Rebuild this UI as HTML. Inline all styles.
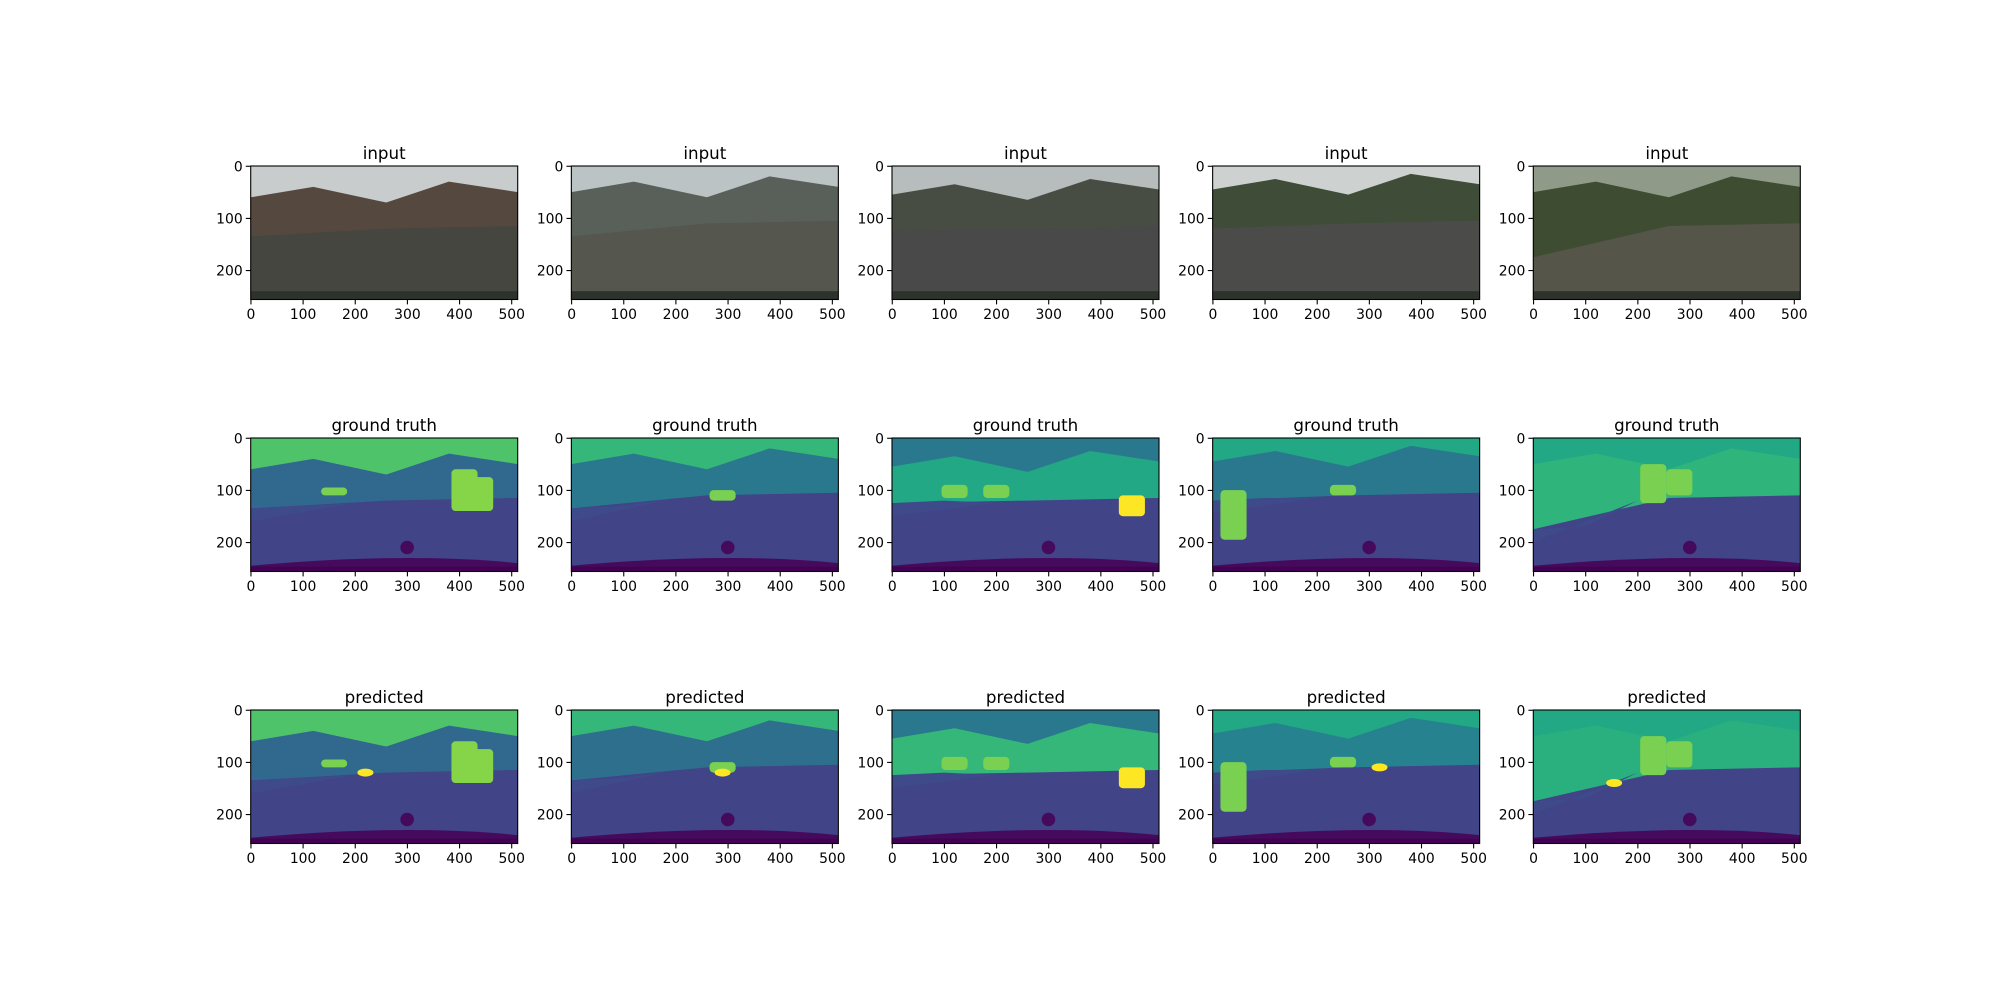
<!DOCTYPE html>
<html><head><meta charset="utf-8"><style>
html,body{margin:0;padding:0;background:#fff;}
svg{display:block;font-family:"DejaVu Sans","Liberation Sans",sans-serif;}
</style></head><body>
<svg id="fig" width="2000" height="1000" viewBox="0 0 2000 1000" xmlns="http://www.w3.org/2000/svg"></svg>
<script>
const rowTitles = ['input','ground truth','predicted'];
const xTicks = [0,100,200,300,400,500];
const yTicks = [0,100,200];
const horizonL = [135,135,125,120,175];
const horizonR = [115,105,115,105,110];
const skyLine = [40,30,35,25,30];
const inSky = ['#c8cccd','#bcc3c5','#b7bdbd','#cdd2d0','#8f9a88'];
const inBld = ['#55493f','#59605a','#474d43','#3f4c37','#3e4d31'];
const inRoad = ['#45463f','#55574f','#484948','#4b4c49','#56554a'];
const segTop = ['#4fc36a','#35b779','#2a788e','#22a884','#22a884'];
const segBld = ['#31688e','#2a788e','#22a884','#2a788e','#2fb47c'];
const segBldP = ['#31688e','#2e6f8e','#35b779','#26828e','#2ab07f'];
const blobs = [
  [[410,60,140,'#86d549'],[440,75,140,'#86d549'],[160,95,110,'#7ad151']],
  [[290,100,120,'#7ad151']],
  [[120,90,115,'#7ad151'],[200,90,115,'#7ad151'],[460,110,150,'#fde725']],
  [[40,100,190,'#7ad151'],[250,90,110,'#7ad151'],[40,120,195,'#7ad151']],
  [[230,50,125,'#7ad151'],[280,60,110,'#7ad151']]
];
const predYellow = [[220,120],[290,120],[460,140],[320,110],[155,140]];

const NS='http://www.w3.org/2000/svg';
const svg=document.getElementById('fig');
const L0=250.7, DX=320.65, W=267, H=133.5;
const tops=[166,438,710];
function mk(tag,attrs,parent){const e=document.createElementNS(NS,tag);for(const k in attrs)e.setAttribute(k,attrs[k]);(parent||svg).appendChild(e);return e;}
for(let r=0;r<3;r++){
  for(let c=0;c<5;c++){
    const left=L0+c*DX, top=tops[r];
    const sx=v=>left+v/512*W, sy=v=>top+v/256*H;
    const g=mk('g',{});
    
    
    const cp=mk('clipPath',{id:'cp'+r+c},g);
    mk('rect',{x:left,y:top,width:W,height:H},cp);
    const img=mk('g',{'clip-path':'url(#cp'+r+c+')'},g);
    
    
    const hl=horizonL[c], hr=horizonR[c], s=skyLine[c];
    const top_=r===0?inSky[c]:segTop[c];
    const bld=r===0?inBld[c]:(r===1?segBld[c]:segBldP[c]);
    const road=r===0?inRoad[c]:'#414487';
    mk('rect',{x:left,y:top,width:W,height:H,fill:top_},img);
    mk('path',{d:`M${sx(0)},${sy(s+20)} L${sx(120)},${sy(s)} L${sx(260)},${sy(s+30)} L${sx(380)},${sy(s-10)} L${sx(512)},${sy(s+10)} L${sx(512)},${sy(hr+10)} L${sx(0)},${sy(hl+10)} Z`,fill:bld},img);
    mk('path',{d:`M${sx(0)},${sy(hl)} L${sx(260)},${sy(hr+5)} L${sx(512)},${sy(hr)} L${sx(512)},${sy(256)} L${sx(0)},${sy(256)} Z`,fill:road},img);
    if(r>0){
      mk('path',{d:`M${sx(0)},${sy(hl)} L${sx(0)},${sy(hl+25)} L${sx(200)},${sy(hr+10)} L${sx(100)},${sy(hl-5)} Z`,fill:'#3e4a89'},img);
      blobs[c].forEach(b=>{mk('rect',{x:sx(b[0]-25),y:sy(b[1]),width:W*50/512,height:sy(b[2])-sy(b[1]),fill:b[3],rx:4},img);});
    }
    if(r===2){const p=predYellow[c];mk('ellipse',{cx:sx(p[0]),cy:sy(p[1]),rx:8,ry:4,fill:'#fde725'},img);}
    if(r===0){
      mk('rect',{x:left,y:sy(240),width:W,height:sy(256)-sy(240),fill:'#2e322d'},img);
    } else {
      mk('path',{d:`M${sx(0)},${sy(245)} Q${sx(300)},${sy(218)} ${sx(512)},${sy(240)} L${sx(512)},${sy(256)} L${sx(0)},${sy(256)} Z`,fill:'#450a5c'},img);
      mk('rect',{x:left,y:sy(247),width:W,height:sy(256)-sy(247),fill:'#440154'},img);
      mk('circle',{cx:sx(300),cy:sy(210),r:W*13/512,fill:'#450a5c'},img);
    }
    const fr=mk('rect',{x:left,y:top,width:W,height:H,fill:'none',stroke:'#000','stroke-width':1.1},g);
    
    
    const t=mk('text',{x:left+W/2,y:top-7,'text-anchor':'middle','font-size':16.7,fill:'#000'},g);
    t.textContent=rowTitles[r];
    
    
    xTicks.forEach(v=>{
      const x=sx(v+0.5);
      mk('line',{x1:x,y1:top+H,x2:x,y2:top+H+4.9,stroke:'#000','stroke-width':1.1},g);
      const tx=mk('text',{x:x,y:top+H+19.5,'text-anchor':'middle','font-size':13.9,fill:'#000'},g);
      tx.textContent=v;
      
      
    });
    yTicks.forEach(v=>{
      const y=sy(v+0.5);
      mk('line',{x1:left,y1:y,x2:left-4.9,y2:y,stroke:'#000','stroke-width':1.1},g);
      const ty=mk('text',{x:left-8,y:y+5,'text-anchor':'end','font-size':13.9,fill:'#000'},g);
      ty.textContent=v;
      
      
    });
  }
}
</script>
</body></html>
